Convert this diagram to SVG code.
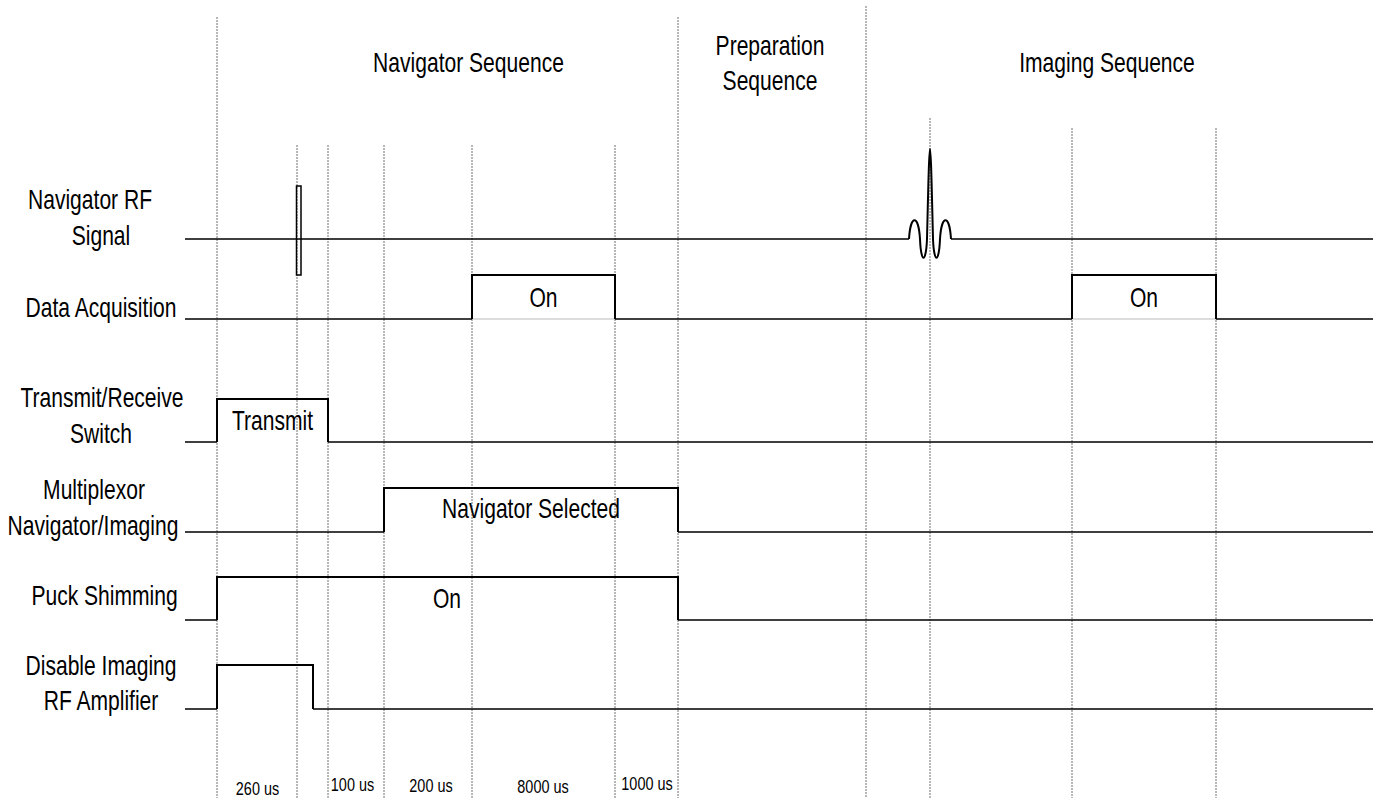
<svg xmlns="http://www.w3.org/2000/svg" width="1381" height="798" viewBox="0 0 1381 798">
<style>
text{font-family:"Liberation Sans",Arial,sans-serif;font-size:27px;fill:#000;text-anchor:middle}
.sm{font-size:18.5px}
.grid{stroke:#707070;stroke-width:1;stroke-dasharray:2 1;fill:none}
.base{stroke:#000;stroke-width:1.5;fill:none}
.sig{stroke:#000;stroke-width:2;fill:none}
.faint{stroke:#bbb;stroke-width:1.2}
</style>
<rect width="1381" height="798" fill="#fff"/>
<g id="grid-lines" class="grid">
<line x1="217" y1="17" x2="217" y2="798"/>
<line x1="297" y1="145" x2="297" y2="798"/>
<line x1="328" y1="145" x2="328" y2="798"/>
<line x1="384" y1="145" x2="384" y2="798"/>
<line x1="472" y1="145" x2="472" y2="798"/>
<line x1="615" y1="145" x2="615" y2="798"/>
<line x1="678" y1="17" x2="678" y2="798"/>
<line x1="866" y1="6" x2="866" y2="798"/>
<line x1="930" y1="118" x2="930" y2="798"/>
<line x1="1072" y1="128" x2="1072" y2="798"/>
<line x1="1216" y1="128" x2="1216" y2="798"/>
</g>
<g id="headers">
<text transform="translate(468.5,72) scale(0.78,1)">Navigator Sequence</text>
<text transform="translate(770,55) scale(0.78,1)">Preparation</text>
<text transform="translate(770,90) scale(0.78,1)">Sequence</text>
<text transform="translate(1107,72) scale(0.78,1)">Imaging Sequence</text>
</g>
<g id="rf-signal">
<text transform="translate(90,209) scale(0.78,1)">Navigator RF</text>
<text transform="translate(101,245) scale(0.78,1)">Signal</text>
<path class="base" d="M185,239 H909 M951,239 H1373"/>
<rect x="296.5" y="186" width="4.5" height="89" fill="none" stroke="#000" stroke-width="1.5"/>
<path class="sig" d="M909,239 C910.5,214 918.5,214 920,239 C921,264 926,264 927,239 C928,200 929,149 930,149 C931,149 932,200 933,239 C934,264 939,264 940,239 C941.5,214 949.5,214 951,239"/>
</g>
<g id="data-acquisition">
<text transform="translate(101,317) scale(0.78,1)">Data Acquisition</text>
<path class="base" d="M185,319 H472 M615,319 H1072 M1216,319 H1373"/>
<path class="faint" d="M472,319 H615 M1072,319 H1216"/>
<path class="sig" d="M472,319 V275 H615 V319"/>
<path class="sig" d="M1072,319 V275 H1216 V319"/>
<text transform="translate(543.5,307) scale(0.78,1)">On</text>
<text transform="translate(1144,307) scale(0.78,1)">On</text>
</g>
<g id="tr-switch">
<text transform="translate(102,407) scale(0.78,1)">Transmit/Receive</text>
<text transform="translate(101,443) scale(0.78,1)">Switch</text>
<path class="base" d="M185,442 H217 M328,442 H1373"/>
<path class="sig" d="M217,442 V399 H328 V442"/>
<text transform="translate(272.5,430) scale(0.78,1)">Transmit</text>
</g>
<g id="multiplexor">
<text transform="translate(94,499) scale(0.78,1)">Multiplexor</text>
<text transform="translate(93,535) scale(0.78,1)">Navigator/Imaging</text>
<path class="base" d="M185,532 H384 M678,532 H1373"/>
<path class="sig" d="M384,532 V488 H678 V532"/>
<text transform="translate(531,518) scale(0.78,1)">Navigator Selected</text>
</g>
<g id="puck-shimming">
<text transform="translate(104.5,605) scale(0.78,1)">Puck Shimming</text>
<path class="base" d="M185,620 H217 M678,620 H1373"/>
<path class="sig" d="M217,620 V577 H678 V620"/>
<text transform="translate(447,608) scale(0.78,1)">On</text>
</g>
<g id="disable-rf-amp">
<text transform="translate(101,675) scale(0.78,1)">Disable Imaging</text>
<text transform="translate(101,710) scale(0.78,1)">RF Amplifier</text>
<path class="base" d="M185,709 H217 M313,709 H1373"/>
<path class="sig" d="M217,709 V665 H313 V709"/>
</g>
<g id="durations">
<text class="sm" transform="translate(257.5,795) scale(0.78,1)">260 us</text>
<text class="sm" transform="translate(352.5,791) scale(0.78,1)">100 us</text>
<text class="sm" transform="translate(431,792) scale(0.78,1)">200 us</text>
<text class="sm" transform="translate(543,793) scale(0.78,1)">8000 us</text>
<text class="sm" transform="translate(647,790) scale(0.78,1)">1000 us</text>
</g>
</svg>
